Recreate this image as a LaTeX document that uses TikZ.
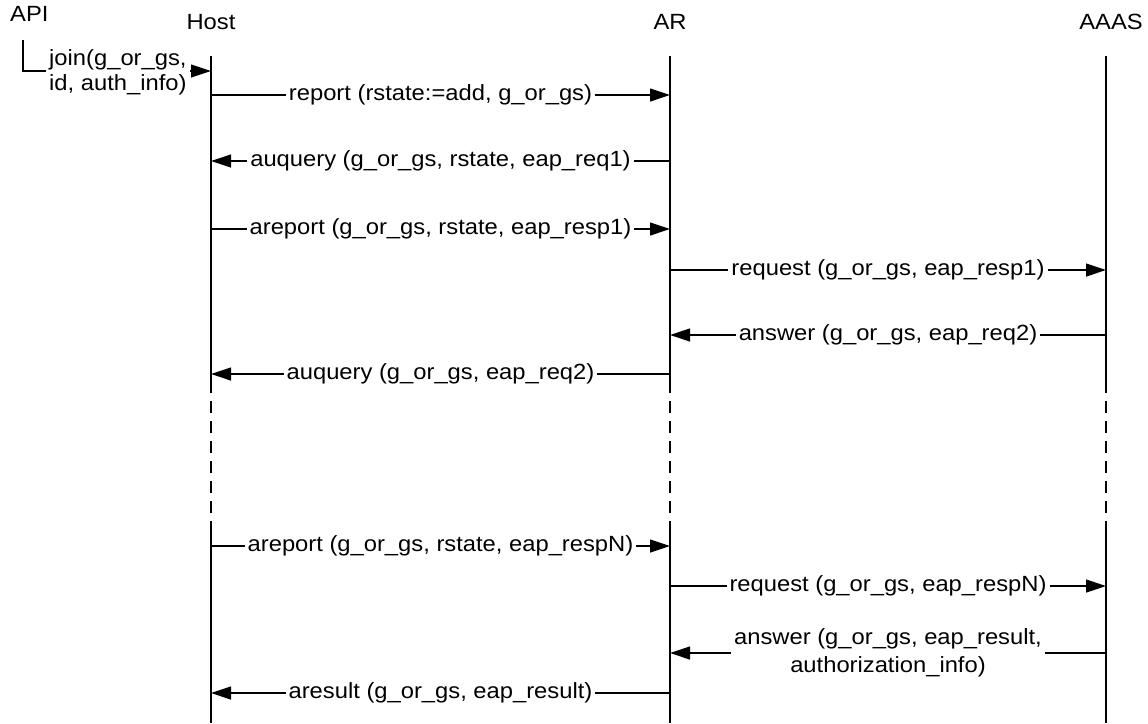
\documentclass[tikz,border=0pt]{standalone}
\usepackage{fontspec}
\setmainfont{Liberation Sans}[FakeStretch=1.08]
\usetikzlibrary{arrows.meta}

\begin{document}
\begin{tikzpicture}[x=1pt,y=-1pt,
  font=\fontsize{22}{25}\selectfont,
  life/.style={line width=2pt},
  gapline/.style={line width=2pt,dash pattern=on 12pt off 8pt,dash phase=12pt},
  msg/.style={line width=1.2pt,-{Triangle[length=20pt,width=13pt]}},
  lbl/.style={fill=white,inner sep=3pt},
  head/.style={anchor=base,inner sep=0pt}]
\useasboundingbox (0,0) rectangle (1148,723);

% participants
\node[head,anchor=base west] (api) at (10,21) {API};
\node[head] (host) at (211,29) {Host};
\node[head] (ar) at (670,29) {AR};
\node[head] (aaas) at (1111,29) {AAAS};

% lifeline tops and section marks
\coordinate (H) at (211,56);
\coordinate (R) at (670,56);
\coordinate (S) at (1106,56);
\coordinate (d1) at (0,393);
\coordinate (d2) at (0,524);
\coordinate (bot) at (0,723);

\foreach \l in {H,R,S}{
  \draw[life] (\l) -- (\l |- d1);
  \draw[gapline] (\l |- d1) -- (\l |- d2);
  \draw[life] (\l |- d2) -- (\l |- bot);
}

% message rows
\coordinate (j)  at (0,71);
\coordinate (m1) at (0,95);
\coordinate (m2) at (0,161);
\coordinate (m3) at (0,229);
\coordinate (m4) at (0,270);
\coordinate (m5) at (0,335);
\coordinate (m6) at (0,374);
\coordinate (m7) at (0,546);
\coordinate (m8) at (0,586);
\coordinate (m9) at (0,653);
\coordinate (m10) at (0,693);

% API call into the host
\coordinate (jt) at (23,40);
\draw[msg] (jt) |- (H |- j);
\node[lbl,align=left,anchor=west] (joinlbl) at (46,72)
  {join(g\_or\_gs,\\id, auth\_info)};

% messages
\draw[msg] (H |- m1) -- node[lbl] (l1) {report (rstate:=add, g\_or\_gs)} (R |- m1);
\draw[msg] (R |- m2) -- node[lbl] (l2) {auquery (g\_or\_gs, rstate, eap\_req1)} (H |- m2);
\draw[msg] (H |- m3) -- node[lbl] (l3) {areport (g\_or\_gs, rstate, eap\_resp1)} (R |- m3);
\draw[msg] (R |- m4) -- node[lbl] (l4) {request (g\_or\_gs, eap\_resp1)} (S |- m4);
\draw[msg] (S |- m5) -- node[lbl] (l5) {answer (g\_or\_gs, eap\_req2)} (R |- m5);
\draw[msg] (R |- m6) -- node[lbl] (l6) {auquery (g\_or\_gs, eap\_req2)} (H |- m6);
\draw[msg] (H |- m7) -- node[lbl] (l7) {areport (g\_or\_gs, rstate, eap\_respN)} (R |- m7);
\draw[msg] (R |- m8) -- node[lbl] (l8) {request (g\_or\_gs, eap\_respN)} (S |- m8);
\draw[msg] (S |- m9) -- node[lbl,align=center] (l9)
  {answer (g\_or\_gs, eap\_result,\\[3pt]authorization\_info)} (R |- m9);
\draw[msg] (R |- m10) -- node[lbl] (l10) {aresult (g\_or\_gs, eap\_result)} (H |- m10);
\end{tikzpicture}
\end{document}
